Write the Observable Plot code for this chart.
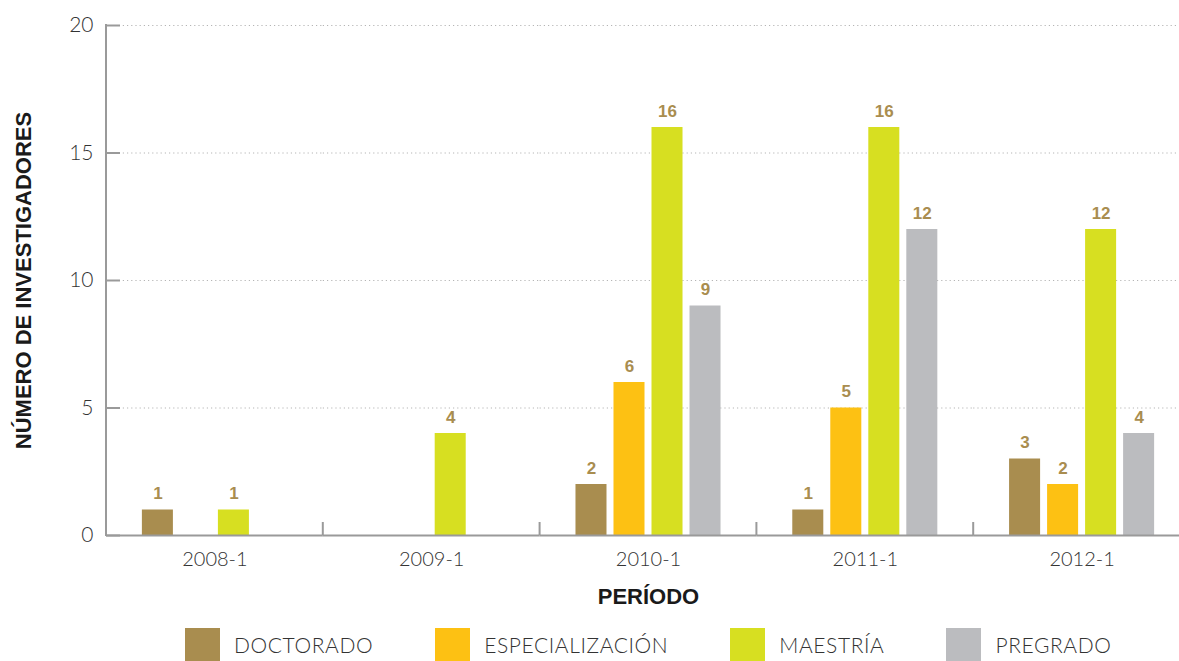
<!DOCTYPE html>
<html>
<head>
<meta charset="utf-8">
<script src="https://cdn.jsdelivr.net/npm/d3@7"></script>
<script src="https://cdn.jsdelivr.net/npm/@observablehq/plot@0.6"></script>
<style>
  html, body { margin: 0; padding: 0; background: #fff; }
  #legend { display: flex; align-items: center; margin-top: 16px; padding-left: 185px; font-family: "Lato", sans-serif; font-weight: 300; font-size: 21px; letter-spacing: 0.6px; color: #333; }
  #legend .item { display: flex; align-items: center; margin-right: 62px; }
  #legend .sw { width: 35px; height: 33px; margin-right: 14px; }
</style>
</head>
<body>
<div id="chart"></div>
<div id="legend"></div>
<script>
const periods = ["2008-1", "2009-1", "2010-1", "2011-1", "2012-1"];
const levels = ["DOCTORADO", "ESPECIALIZACIÓN", "MAESTRÍA", "PREGRADO"];
const doctorado = [1, null, 2, 1, 3];
const especializacion = [null, null, 6, 5, 2];
const maestria = [1, 4, 16, 16, 12];
const pregrado = [null, null, 9, 12, 4];
const colors = ["#a98d4f", "#fdc113", "#d7df21", "#bbbcbf"];
const yTicks = [0, 5, 10, 15, 20];
const yTitle = "NÚMERO DE INVESTIGADORES";
const xTitle = "PERÍODO";

const series = [doctorado, especializacion, maestria, pregrado];
const data = [];
levels.forEach((lv, i) => periods.forEach((p, j) => {
  if (series[i][j] != null) data.push({period: p, level: lv, value: series[i][j]});
}));

const W = 1179, H = 612;
const plot = Plot.plot({
  width: W,
  height: H,
  marginLeft: 106,
  marginRight: -11,
  marginTop: 25,
  marginBottom: 77,
  style: {fontFamily: "Lato, sans-serif", fontWeight: 300, fontSize: "20px", color: "#333", background: "#fff"},
  fx: {domain: periods, padding: 0, round: false},
  x: {domain: levels, axis: null, paddingInner: 0.184, paddingOuter: 0.944, round: false},
  y: {domain: [0, 20]},
  color: {domain: levels, range: colors},
  marks: [
    Plot.gridY(yTicks, {stroke: "#b5b5b5", strokeOpacity: 1, strokeDasharray: "1.2,3"}),
    Plot.barY(data, {fx: "period", x: "level", y: "value", fill: "level"}),
    Plot.text(data, {fx: "period", x: "level", y: "value", text: "value", dy: -11, lineAnchor: "bottom",
      fill: "#a98d4f", fontWeight: "bold", fontFamily: "Liberation Sans, Arial, sans-serif", fontSize: 17}),
    Plot.ruleY([0], {stroke: "#9a9a9a", strokeWidth: 2}),
    Plot.axisY(yTicks, {tickSize: 0, tickPadding: 13, fontSize: 21, label: null}),
    Plot.axisY(yTicks, {tickSize: -14, tickFormat: () => "", stroke: "#9a9a9a", strokeWidth: 2, label: null}),
    Plot.axisFx({anchor: "bottom", tickSize: 0, tickPadding: 16, fontSize: 20, label: null}),
    Plot.text([xTitle], {frameAnchor: "bottom", textAnchor: "middle", facet: "super", dy: 68, lineAnchor: "bottom",
      fontWeight: "bold", fontFamily: "Liberation Sans, Arial, sans-serif", fontSize: 22, fill: "#1a1a1a"}),
    Plot.text([yTitle], {frameAnchor: "left", textAnchor: "middle", lineAnchor: "middle", facet: "super", rotate: -90, dx: -83,
      fontWeight: "bold", fontFamily: "Liberation Sans, Arial, sans-serif", fontSize: 22, fill: "#1a1a1a"})
  ]
});
document.getElementById("chart").appendChild(plot);

// axis line and category boundary ticks, placed with the plot's own scales
const fxS = plot.scale("fx"), yS = plot.scale("y");
const svg = d3.select(plot);
const g = svg.append("g").attr("stroke", "#9a9a9a").attr("stroke-width", 2);
const x0 = fxS.apply(periods[0]);
g.append("line").attr("x1", x0).attr("x2", x0).attr("y1", yS.apply(0) + 1).attr("y2", yS.apply(yTicks[yTicks.length - 1]) - 1);
periods.forEach(p => {
  const x = fxS.apply(p);
  g.append("line").attr("x1", x).attr("x2", x).attr("y1", yS.apply(0)).attr("y2", yS.apply(0) - 13);
});

// legend
const legend = d3.select("#legend");
levels.forEach((lv, i) => {
  const item = legend.append("div").attr("class", "item");
  item.append("div").attr("class", "sw").style("background", colors[i]);
  item.append("span").text(lv);
});
</script>
</body>
</html>
